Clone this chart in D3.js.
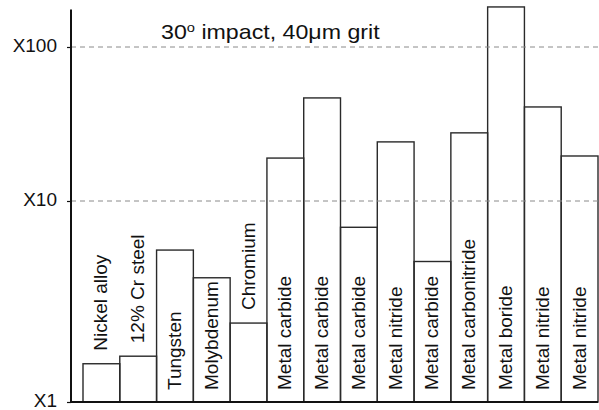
<!DOCTYPE html>
<html>
<head>
<meta charset="utf-8">
<script src="https://cdn.jsdelivr.net/npm/d3@7"></script>
<style>
  body { margin: 0; background: #fff; }
  svg { display: block; font-family: "Liberation Sans", Arial, sans-serif; }
</style>
</head>
<body>
<svg id="chart" width="599" height="410"></svg>
<script>
// Erosion resistance relative to nickel alloy, 30° impact with 40 µm grit
const materials = [
  "Nickel alloy", "12% Cr steel", "Tungsten", "Molybdenum", "Chromium",
  "Metal carbide", "Metal carbide", "Metal carbide", "Metal nitride",
  "Metal carbide", "Metal carbonitride", "Metal boride", "Metal nitride", "Metal nitride"
];
const factors = [1.55, 1.69, 5.7, 4.15, 2.47, 19.0, 46.7, 7.4, 24.2, 5.0, 27.7, 182, 40.8, 19.6];
const tickValues = [1, 10, 100];
const tickLabels = ["X1", "X10", "X100"];
const axisTopValue = 175;

const FONT = "'Liberation Sans', Arial, sans-serif";
const svg = d3.select("#chart");

// Log axis, one segment per decade
const y = d3.scaleLog()
  .domain([1, 10, 100])
  .range([402, 201, 47]);

const x = d3.scaleBand()
  .domain(d3.range(materials.length))
  .range([83, 598])
  .padding(0);

const axisX = 71;

// Bars
svg.append("g")
  .selectAll("rect")
  .data(factors)
  .join("rect")
  .attr("x", (d, i) => x(i))
  .attr("y", d => y(d))
  .attr("width", x.bandwidth())
  .attr("height", d => y(1) - y(d))
  .attr("fill", "none")
  .attr("stroke", "#2a2a2a")
  .attr("stroke-width", 1.4);

// Dashed decade gridlines
svg.append("g")
  .selectAll("line")
  .data(tickValues.filter(v => v > 1))
  .join("line")
  .attr("x1", axisX)
  .attr("x2", 599)
  .attr("y1", d => y(d))
  .attr("y2", d => y(d))
  .attr("stroke", "#8a8a8a")
  .attr("stroke-width", 1)
  .attr("stroke-dasharray", "5,4");

// Y axis
const yAxis = d3.axisLeft(y)
  .tickValues(tickValues)
  .tickFormat((d, i) => tickLabels[i])
  .tickSize(4)
  .tickPadding(10);

const axisG = svg.append("g")
  .attr("transform", `translate(${axisX},0)`)
  .call(yAxis);
axisG.select(".domain").remove();
axisG.selectAll(".tick line").attr("stroke", "#111").attr("stroke-width", 1.2);
axisG.selectAll(".tick text")
  .attr("font-size", 19)
  .attr("fill", "#111")
  .attr("dy", "0.22em")
  .attr("font-family", FONT);

svg.append("line")
  .attr("x1", axisX).attr("x2", axisX)
  .attr("y1", y(axisTopValue)).attr("y2", y(1) + 1)
  .attr("stroke", "#111").attr("stroke-width", 2);

svg.append("line")
  .attr("x1", axisX).attr("x2", 598)
  .attr("y1", y(1)).attr("y2", y(1))
  .attr("stroke", "#111").attr("stroke-width", 2);

// Material labels, written upward; placed above the bar when it is too short
const labels = svg.append("g")
  .selectAll("text")
  .data(materials)
  .join("text")
  .attr("font-size", 19)
  .attr("font-family", FONT)
  .attr("fill", "#111")
  .attr("text-anchor", "start")
  .text(d => d);

labels.each(function (d, i) {
  const len = this.getComputedTextLength();
  const barH = y(1) - y(factors[i]);
  const startY = (len + 14 <= barH) ? y(1) - 12 : y(factors[i]) - 13;
  const cx = x(i) + x.bandwidth() / 2 + 6;
  d3.select(this).attr("transform", `translate(${cx},${startY}) rotate(-90)`);
});

// Title, set in a wide face
const titleLeft = 161, titleRight = 380;
const title = svg.append("text")
  .attr("font-size", 20.5)
  .attr("font-family", FONT)
  .attr("fill", "#111");
title.append("tspan").text("30");
title.append("tspan").attr("font-size", 13).attr("dy", -7.5).text("o");
title.append("tspan").attr("dy", 7.5).text(" impact, 40\u03BCm grit");
const tw = title.node().getBBox().width;
title.attr("transform", `translate(${titleLeft},39) scale(${(titleRight - titleLeft) / tw},1)`);
</script>
</body>
</html>
